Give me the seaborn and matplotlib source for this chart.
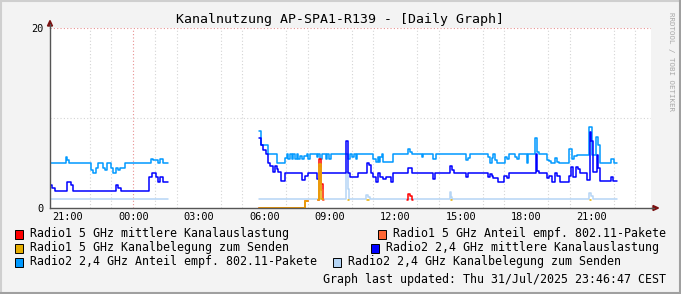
import numpy as np
import pandas as pd
import matplotlib
matplotlib.use("Agg")
import matplotlib.pyplot as plt
import seaborn as sns
from matplotlib.patches import Rectangle, Polygon
from matplotlib.lines import Line2D

sns.set_theme(style="white")
plt.rcParams["font.family"] = ["DejaVu Sans Mono", "DejaVu Sans"]

nan = np.nan
title = "Kanalnutzung AP-SPA1-R139 - [Daily Graph]"
updated = "Graph last updated: Thu 31/Jul/2025 23:46:47 CEST"
watermark = "RRDTOOL / TOBI OETIKER"

series_names = [
    "Radio1 5 GHz mittlere Kanalauslastung",
    "Radio1 5 GHz Anteil empf. 802.11-Pakete",
    "Radio1 5 GHz Kanalbelegung zum Senden",
    "Radio2 2,4 GHz mittlere Kanalauslastung",
    "Radio2 2,4 GHz Anteil empf. 802.11-Pakete",
    "Radio2 2,4 GHz Kanalbelegung zum Senden",
]
series_colors = ["#ff0000", "#ff6633", "#e5ad00", "#0000ff", "#0099ff", "#b5d5f5"]

# time in hours since 00:00 on 30 Jul (24 = 00:00 on 31 Jul); NaN = start of gap
tick_hours = [21, 24, 27, 30, 33, 36, 39, 42, 45]
tick_labels = ["21:00", "00:00", "03:00", "06:00", "09:00", "12:00", "15:00", "18:00", "21:00"]

r1_util_t = [29.77, 31.88, 32.02, 32.45, 32.49, 32.61, 32.68, 32.70, 36.55, 36.60, 36.69, 36.78, 36.80]
r1_util_v = [0.0, 0.75, nan, 0.9, 5.4, 2.7, 0.9, nan, 0.9, 1.6, 1.3, 0.9, nan]

r1_rx_t = [29.77, 31.88, 32.02, 32.45, 32.49, 32.61, 32.70, 32.72]
r1_rx_v = [0.0, 0.75, nan, 0.9, 4.5, 1.95, 0.9, nan]

r1_tx_t = [29.77, 31.88, 32.02, 32.45, 32.49, 32.61, 32.68, 33.82, 33.90, 34.72, 34.82, 38.55, 38.62, 44.92, 44.98]
r1_tx_v = [0.0, 0.8, nan, 0.9, 4.9, 1.0, nan, 0.85, nan, 0.85, nan, 0.85, nan, 0.85, nan]

r2_util_t = [20.21, 20.28, 20.40, 20.95, 21.13, 21.25, 23.22, 23.30, 23.42, 24.72, 24.87, 25.03, 25.13,
             25.22, 25.37, 25.59,
             29.77, 29.86, 29.96, 30.07, 30.16, 30.26, 30.39, 30.49, 30.57, 30.64, 30.77, 30.95, 31.71,
             31.87, 32.02, 32.40, 32.55, 33.74, 33.82, 33.93, 34.28, 34.69, 34.80, 34.89, 35.00, 35.10,
             35.20, 35.30, 35.45, 35.56, 35.79, 35.91, 36.60, 36.75, 37.74, 37.82, 38.51, 38.59, 38.71,
             39.24, 39.33, 40.26, 40.34, 40.42, 40.49, 40.72, 40.98, 41.11, 41.22, 42.45, 42.51, 42.60,
             42.94, 43.06, 43.17, 43.32, 43.42, 43.55, 43.96, 44.05, 44.16, 44.28, 44.39, 44.46, 44.77,
             44.92, 44.97, 45.06, 45.23, 45.30, 45.38, 45.88, 45.99, 46.14]
r2_util_v = [2.6, 2.2, 1.9, 2.9, 2.6, 1.9, 2.6, 2.2, 1.9, 3.4, 3.9, 3.4, 2.9,
             3.4, 2.9, nan,
             7.8, 7.0, 6.4, 6.0, 5.0, 4.7, 4.0, 4.7, 4.3, 4.0, 2.95, 3.9, 3.1,
             3.6, 3.9, 3.2, 3.9, 7.4, 3.9, 3.4, 3.9, 5.0, 4.8, 3.9, 3.45, 2.87,
             3.9, 3.45, 3.2, 3.45, 2.87, 3.9, 4.5, 3.9, 3.2, 3.9, 4.7, 4.2, 3.9,
             3.4, 3.9, 3.4, 3.8, 3.6, 3.3, 2.9, 3.6, 3.3, 3.9, 6.0, 4.1, 3.9,
             3.3, 3.6, 2.9, 3.9, 3.6, 2.9, 3.6, 4.6, 3.5, 4.6, 4.3, 3.9, 3.15,
             8.5, 7.5, 4.0, 5.9, 4.5, 2.95, 3.5, 2.95, nan]

r2_rx_t = [20.21, 20.93, 20.98, 21.07, 22.05, 22.14, 22.28, 22.38, 22.61, 22.69, 22.78, 22.99, 23.08,
           23.19, 23.30, 23.39, 23.63, 24.82, 24.92, 25.13, 25.22, 25.37, 25.59,
           29.77, 29.86, 30.16, 30.57, 30.95, 31.03, 31.10, 31.18, 31.26, 31.33, 31.41, 31.48, 31.56,
           31.63, 31.74, 31.83, 31.94, 32.02, 32.10, 32.40, 32.48, 32.55, 32.63, 32.81, 32.88, 32.96,
           33.04, 33.82, 33.93, 34.00, 34.10, 34.19, 34.25, 35.00, 35.10, 35.20, 35.25, 35.30, 35.40,
           35.45, 35.91, 36.60, 36.68, 36.75, 37.21, 37.29, 37.74, 37.85, 39.24, 39.33, 39.42, 40.26,
           40.34, 40.42, 40.49, 40.57, 40.65, 41.03, 41.11, 41.22, 41.49, 41.56, 41.68, 42.02, 42.10,
           42.40, 42.51, 42.60, 42.94, 43.06, 43.12, 43.32, 43.40, 43.49, 43.96, 44.08, 44.19, 44.31,
           44.87, 45.00, 45.21, 45.30, 45.38, 45.88, 46.03, 46.14]
r2_rx_v = [5.0, 5.7, 5.3, 5.0, 4.2, 3.9, 4.5, 5.0, 4.5, 4.2, 5.0, 4.5, 3.9,
           4.5, 4.2, 4.5, 5.0, 5.4, 5.3, 5.0, 5.4, 5.0, nan,
           8.6, 7.0, 6.0, 5.0, 5.6, 6.0, 5.5, 6.0, 5.4, 6.0, 5.5, 6.0, 5.4,
           5.8, 5.4, 5.8, 6.0, 5.5, 6.0, 5.7, 6.0, 5.5, 6.0, 5.4, 6.0, 5.5,
           6.0, 5.5, 6.0, 5.7, 6.0, 5.4, 6.0, 5.4, 5.1, 5.7, 5.1, 5.7, 6.0,
           5.1, 6.0, 6.6, 6.2, 6.0, 5.7, 6.0, 5.4, 6.0, 5.3, 5.6, 6.0, 5.7,
           5.05, 5.6, 6.0, 5.3, 5.05, 5.7, 5.4, 6.0, 5.7, 5.5, 6.0, 5.05, 6.0,
           7.8, 6.2, 6.0, 5.3, 5.2, 5.05, 5.6, 5.1, 5.05, 6.6, 5.5, 5.8, 5.9,
           9.0, 5.9, 7.9, 7.0, 4.95, 5.5, 4.95, nan]

r2_tx_t = [20.21, 25.59, 29.77, 33.74, 33.82, 33.90, 34.67, 34.77, 34.85, 38.51, 38.57, 38.62,
           44.87, 44.97, 45.07, 46.14]
r2_tx_v = [0.95, nan, 0.95, 4.0, 2.1, 0.95, 1.5, 1.2, 0.95, 1.75, 1.2, 0.95,
           1.7, 1.3, 0.95, nan]

series_t = [r1_util_t, r1_rx_t, r1_tx_t, r2_util_t, r2_rx_t, r2_tx_t]
series_v = [r1_util_v, r1_rx_v, r1_tx_v, r2_util_v, r2_rx_v, r2_tx_v]

rows = []
seg = 0
for name, ts, vs in zip(series_names, series_t, series_v):
    prev = None
    open_ = False
    for t, v in zip(ts, vs):
        if np.isnan(v):
            if open_:
                rows.append((name, seg, t, prev))
                seg += 1
                open_ = False
        else:
            rows.append((name, seg, t, v))
            prev = v
            open_ = True
    if open_:
        seg += 1
df = pd.DataFrame(rows, columns=["series", "seg", "t", "v"])

W, H = 681, 294
fig = plt.figure(figsize=(W / 100, H / 100), dpi=100)
fig.patch.set_facecolor("#f3f3f3")


def fx(px):
    return px / W


def fy(py):
    return 1 - py / H


ax = fig.add_axes([fx(50), fy(208), fx(601), 180 / H])
ax.set_facecolor("white")

draw_order = [series_names[i] for i in [5, 4, 3, 0, 1, 2]]
palette = dict(zip(series_names, series_colors))
sns.lineplot(data=df, x="t", y="v", hue="series", units="seg", estimator=None,
             hue_order=draw_order, palette=palette, drawstyle="steps-post",
             linewidth=1.1, legend=False, ax=ax, zorder=3)

ax.set_xlim(20.185, 47.716)
ax.set_ylim(0, 20)
ax.set_xlabel("")
ax.set_ylabel("")

# grid
ax.set_xticks(np.arange(21, 48, 1), minor=True)
ax.set_xticks(tick_hours)
ax.set_xticklabels(tick_labels)
ax.set_yticks([0, 20])
ax.set_yticklabels(["0", "20"])
ax.set_yticks([10], minor=True)
ax.grid(False)
ax.grid(which="minor", axis="both", linestyle=(0, (1, 2)), color="#d4d4d4", linewidth=0.8)
ax.axvline(24, linestyle=(0, (1, 2)), color="#e89090", linewidth=0.8, zorder=1)
ax.axhline(20, linestyle=(0, (1, 2)), color="#e89090", linewidth=0.8, zorder=1)

ax.tick_params(axis="x", which="major", length=0, pad=3.2, labelsize=7.4, colors="#000000")
ax.tick_params(axis="x", which="minor", length=2, color="#b0b0b0")
ax.tick_params(axis="y", which="both", length=0, pad=5, labelsize=7.4, colors="#000000")
for s in ["top", "right"]:
    ax.spines[s].set_visible(False)
for s in ["left", "bottom"]:
    ax.spines[s].set_color("#555555")
    ax.spines[s].set_linewidth(1.0)
    ax.spines[s].set_zorder(4)

# axis arrows
fig.add_artist(Line2D([fx(651), fx(654)], [fy(208), fy(208)], color="#555555", lw=1.0))
fig.add_artist(Polygon([[fx(653), fy(205.5)], [fx(658.5), fy(208)], [fx(653), fy(210.5)]],
                       closed=True, color="#7a1010", transform=fig.transFigure))
fig.add_artist(Line2D([fx(50), fx(50)], [fy(28), fy(24)], color="#555555", lw=1.0))
fig.add_artist(Polygon([[fx(47.5), fy(26)], [fx(50), fy(20.5)], [fx(52.5), fy(26)]],
                       closed=True, color="#7a1010", transform=fig.transFigure))

# title and texts
fig.text(fx(339.5), fy(19), title, ha="center", va="center", fontsize=9.5, color="#000000")
fig.text(fx(671), fy(61), watermark, ha="center", va="center", rotation=270,
         fontsize=5.4, color="#a8a8a8")
fig.text(fx(666), fy(280), updated, ha="right", va="center", fontsize=8.4, color="#000000")

# legend
legend_pos = [(15, 30, 234), (378, 393, 234), (15, 30, 248), (371, 386, 248), (15, 30, 262), (333, 348, 262)]
for (bx, tx, ty), name, col in zip(legend_pos, series_names, series_colors):
    fig.add_artist(Rectangle((fx(bx), fy(ty + 4.5)), 8 / W, 9 / H, facecolor=col,
                             edgecolor="#000000", linewidth=0.7, transform=fig.transFigure))
    fig.text(fx(tx), fy(ty), name, ha="left", va="center", fontsize=8.4, color="#000000")

# frame
fig.add_artist(Line2D([0, 1], [fy(0.8), fy(0.8)], color="#cfcfcf", lw=1.5))
fig.add_artist(Line2D([fx(0.8), fx(0.8)], [0, 1], color="#cfcfcf", lw=1.5))
fig.add_artist(Line2D([0, 1], [fy(293.2), fy(293.2)], color="#a0a0a0", lw=1.5))
fig.add_artist(Line2D([fx(680.2), fx(680.2)], [0, 1], color="#a0a0a0", lw=1.5))

fig.savefig("out.png", dpi=100, facecolor=fig.get_facecolor())
